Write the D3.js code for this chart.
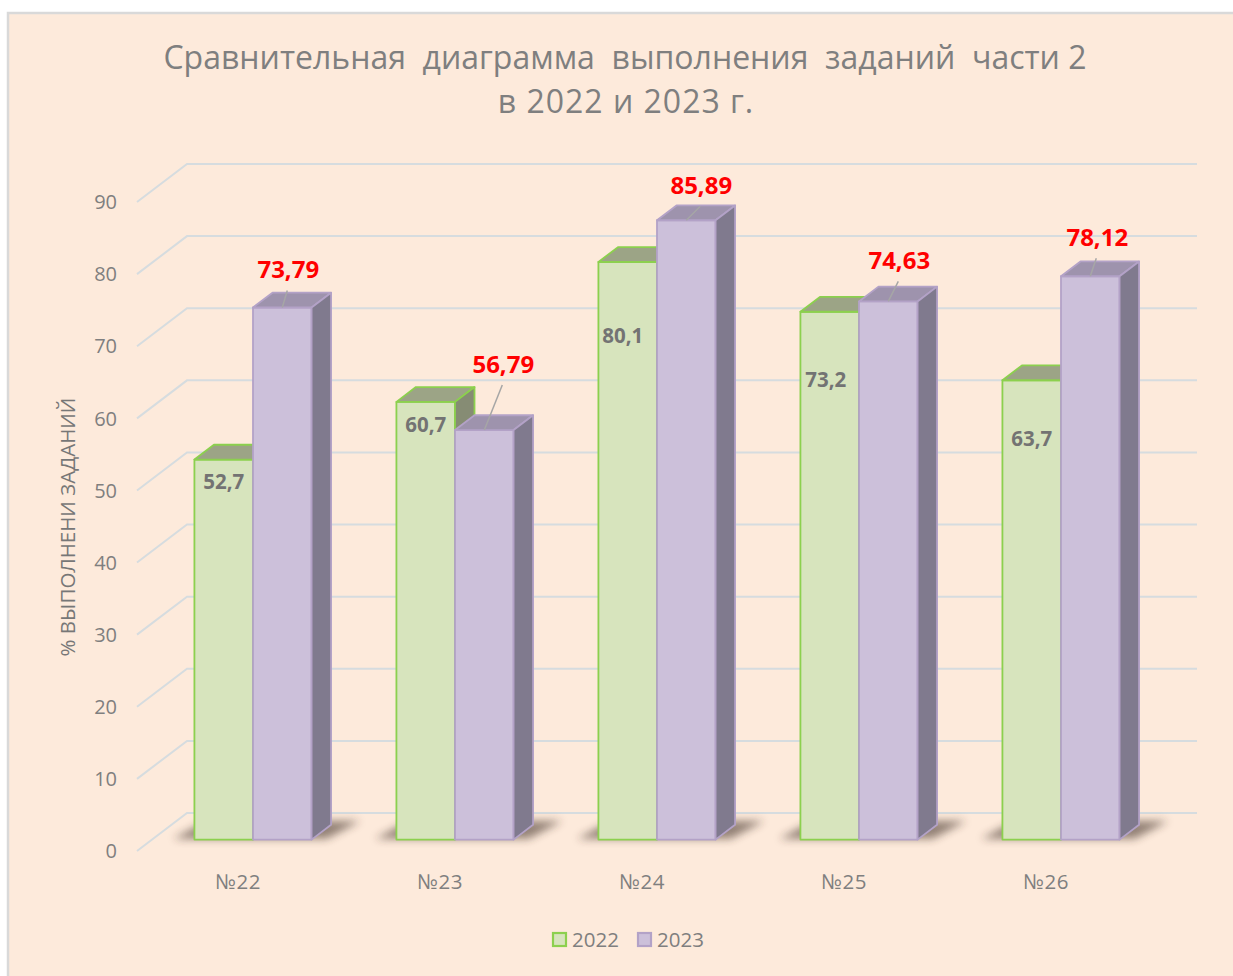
<!DOCTYPE html>
<html>
<head>
<meta charset="utf-8">
<script src="https://cdn.jsdelivr.net/npm/d3@7"></script>
<style>
  html, body { margin: 0; padding: 0; background: #ffffff; }
  svg { display: block; }
</style>
</head>
<body>
<svg id="chart" width="1233" height="976"></svg>
<script>
// ---------- DATA ----------
const categories = ["№22", "№23", "№24", "№25", "№26"];
const seriesNames = ["2022", "2023"];
const values2022 = [52.7, 60.7, 80.1, 73.2, 63.7];
const values2023 = [73.79, 56.79, 85.89, 74.63, 78.12];
const labels2022 = ["52,7", "60,7", "80,1", "73,2", "63,7"];
const labels2023 = ["73,79", "56,79", "85,89", "74,63", "78,12"];
const yTicks = [0, 10, 20, 30, 40, 50, 60, 70, 80, 90];
const titleLines = ["Сравнительная  диаграмма  выполнения  заданий  части 2", "в 2022 и 2023 г."];
const yAxisTitle = "% ВЫПОЛНЕНИ ЗАДАНИЙ";

// ---------- LAYOUT / STYLE ----------
const W = 1233, H = 976;
const FONT = "'Open Sans', 'Liberation Sans', sans-serif";
const DX = 50, DY = 38;          // full depth projection offset
const Z0 = 0.30, Z1 = 0.69;      // bar depth range
// manual label offsets (px) relative to bar front-top centre
const lab2022Off = [[0, 22], [0, 23], [-5, 74], [-4, 68], [0, 58]];
const lab2023Off = [[6, -38], [19, -66], [15, -35], [11, -41], [7, -39]];

const colors = {
  bg: "#FDEADB", border: "#D9D9D9", grid: "#D6DCDF", text: "#7F7F7F",
  g: { front: "#D7E4BD", top: "#9CA486", side: "#868C74", stroke: "#8CD04E" },
  p: { front: "#CCC0DA", top: "#9E93AD", side: "#807A8E", stroke: "#B3A2C7" }
};

const svg = d3.select("#chart");

// background panel
svg.append("rect").attr("x", 8).attr("y", 13).attr("width", W + 10).attr("height", H + 10)
  .attr("fill", colors.bg).attr("stroke", colors.border).attr("stroke-width", 2.5);

// defs: shadow blur
const defs = svg.append("defs");
defs.append("filter").attr("id", "blur").attr("x", "-50%").attr("y", "-200%")
  .attr("width", "200%").attr("height", "500%")
  .append("feGaussianBlur").attr("stdDeviation", 4);

// scales
const x = d3.scaleBand().domain(categories).range([137, 1147]).paddingInner(0.42).paddingOuter(0.21);
const xs = d3.scaleBand().domain(seriesNames).range([0, x.bandwidth()]);
const y = d3.scaleLinear().domain([0, 90]).range([851, 202]);

const P = (px, v, z) => [px + z * DX, y(v) - z * DY];
const poly = pts => "M" + pts.map(p => p.join(",")).join("L") + "Z";

// gridlines
const gx0 = x.range()[0], gx1 = x.range()[1];
const grid = svg.append("g");
yTicks.forEach(t => {
  const a = P(gx0, t, 0), b = P(gx0, t, 1), c = P(gx1, t, 1);
  grid.append("path").attr("d", `M${a}L${b}L${c}`).attr("fill", "none")
    .attr("stroke", colors.grid).attr("stroke-width", 2);
});

// y tick labels
svg.append("g").selectAll("text").data(yTicks).join("text")
  .attr("x", gx0 - 20).attr("y", d => y(d)).attr("dy", "0.36em")
  .attr("text-anchor", "end").attr("font-family", FONT).attr("font-size", 20)
  .attr("fill", colors.text).text(d => d);

// y axis title
svg.append("text").attr("transform", "translate(75,527) rotate(-90)")
  .attr("text-anchor", "middle").attr("font-family", FONT).attr("font-size", 20.5)
  .attr("font-weight", 500).attr("fill", "#777777").text(yAxisTitle);

// category labels
svg.append("g").selectAll("text").data(categories).join("text")
  .attr("x", d => x(d) + x.bandwidth() / 2).attr("y", 889)
  .attr("text-anchor", "middle").attr("font-family", FONT).attr("font-size", 20.5)
  .attr("letter-spacing", 0.6)
  .attr("fill", colors.text).text(d => d);

// bars
const series = [
  { name: "2022", vals: values2022, c: colors.g },
  { name: "2023", vals: values2023, c: colors.p }
];
const barsG = svg.append("g");
categories.forEach((cat, i) => {
  const gx = x(cat);
  // shadow on floor
  const s0 = gx - 22, s1 = gx + x.bandwidth() + 14;
  barsG.append("path")
    .attr("d", poly([P(s0, 0, Z0 + 0.02), P(s1, 0, Z0 + 0.02), P(s1 + 10, 0, Z1 + 0.1), P(s0 + 10, 0, Z1 + 0.1)]))
    .attr("fill", "#3b2a22").attr("opacity", 0.55).attr("filter", "url(#blur)");
  series.forEach(s => {
    const v = s.vals[i];
    const bx0 = gx + xs(s.name), bx1 = bx0 + xs.bandwidth();
    const g = barsG.append("g").attr("stroke", s.c.stroke).attr("stroke-width", 1.8)
      .attr("stroke-linejoin", "round");
    g.append("path").attr("d", poly([P(bx0, v, Z0), P(bx1, v, Z0), P(bx1, 0, Z0), P(bx0, 0, Z0)]))
      .attr("fill", s.c.front);
    g.append("path").attr("d", poly([P(bx0, v, Z0), P(bx1, v, Z0), P(bx1, v, Z1), P(bx0, v, Z1)]))
      .attr("fill", s.c.top);
    g.append("path").attr("d", poly([P(bx1, v, Z0), P(bx1, 0, Z0), P(bx1, 0, Z1), P(bx1, v, Z1)]))
      .attr("fill", s.c.side);
  });
});

// data labels
const labG = svg.append("g");
categories.forEach((cat, i) => {
  const gx = x(cat);
  // 2022
  {
    const v = values2022[i];
    const fc = P(gx + xs("2022") + xs.bandwidth() / 2, v, Z0);
    labG.append("text").attr("x", fc[0] + lab2022Off[i][0]).attr("y", fc[1] + lab2022Off[i][1])
      .attr("dy", "0.36em").attr("text-anchor", "middle").attr("font-family", FONT)
      .attr("font-size", 20.5).attr("font-weight", "bold").attr("fill", "#737373").text(labels2022[i]);
  }
  // 2023
  {
    const v = values2023[i];
    const fc = P(gx + xs("2023") + xs.bandwidth() / 2, v, Z0);
    const lx = fc[0] + lab2023Off[i][0], ly = fc[1] + lab2023Off[i][1];
    labG.append("line").attr("x1", fc[0]).attr("y1", fc[1]).attr("x2", lx - 1).attr("y2", ly + 21)
      .attr("stroke", "#A6A6A6").attr("stroke-width", 1.5);
    labG.append("text").attr("x", lx).attr("y", ly).attr("dy", "0.36em")
      .attr("text-anchor", "middle").attr("font-family", FONT)
      .attr("font-size", 24).attr("font-weight", "bold").attr("fill", "#FF0000").text(labels2023[i]);
  }
});

// title
svg.append("text").attr("x", 625).attr("y", 69).attr("text-anchor", "middle")
  .attr("font-family", FONT).attr("font-size", 32).attr("fill", "#7F7F7F")
  .attr("xml:space", "preserve").style("white-space", "pre").text(titleLines[0]);
svg.append("text").attr("x", 626).attr("y", 113).attr("text-anchor", "middle")
  .attr("font-family", FONT).attr("font-size", 32).attr("letter-spacing", 1).attr("fill", "#7F7F7F").text(titleLines[1]);

// legend
const leg = svg.append("g");
const legItems = [
  { name: "2022", c: colors.g, x: 553 },
  { name: "2023", c: colors.p, x: 638 }
];
legItems.forEach(it => {
  leg.append("rect").attr("x", it.x).attr("y", 933).attr("width", 13).attr("height", 13)
    .attr("fill", it.c.front).attr("stroke", it.c.stroke).attr("stroke-width", 2.2);
  leg.append("text").attr("x", it.x + 19).attr("y", 940).attr("dy", "0.36em")
    .attr("font-family", FONT).attr("font-size", 20.5).attr("fill", colors.text).text(it.name);
});
</script>
</body>
</html>
